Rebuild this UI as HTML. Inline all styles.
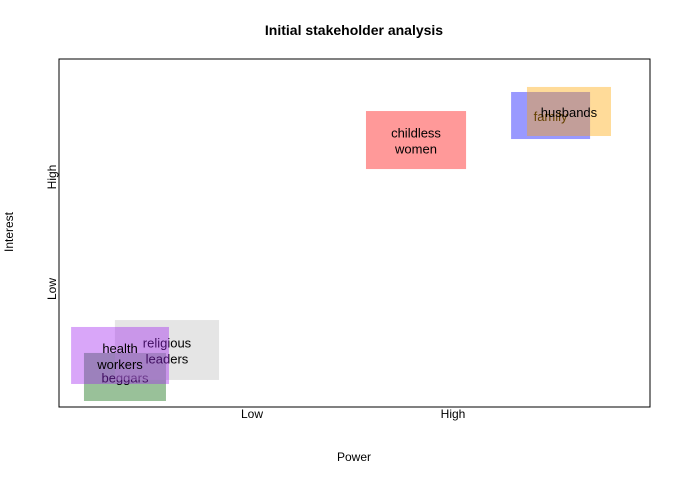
<!DOCTYPE html>
<html><head><meta charset="utf-8"><style>
body{margin:0;background:#fff}
svg text{font-family:"Liberation Sans",sans-serif}
</style></head><body>
<svg id="chart" width="680" height="480" xmlns="http://www.w3.org/2000/svg">
<rect width="680" height="480" fill="#fff"/>
<text x="354" y="35" text-anchor="middle" font-size="14" font-weight="bold">Initial stakeholder analysis</text>
<rect x="59" y="59" width="591" height="348" fill="none" stroke="#000" stroke-width="1"/>
<g id="marks"></g>
<g id="axes"></g>
<text x="354" y="461" text-anchor="middle" font-size="12">Power</text>
<text transform="translate(13,232) rotate(-90)" text-anchor="middle" font-size="12">Interest</text>
</svg>
<script>
const names=[["beggars"],["religious","leaders"],["health","workers"],["childless","women"],["family"],["husbands"]];
const xMin=[0.164,0.318,0.100,1.567,2.289,2.368];
const xMax=[0.572,0.836,0.587,2.065,2.682,2.786];
const yMin=[0.000,0.188,0.152,2.071,2.339,2.366];
const yMax=[0.429,0.723,0.661,2.589,2.759,2.804];
const colors=["rgba(0,100,0,0.4)","rgba(190,190,190,0.4)","rgba(160,32,240,0.4)","rgba(255,0,0,0.4)","rgba(0,0,255,0.4)","rgba(255,165,0,0.4)"];
const xTicks=[1,2], xTickLabels=["Low","High"];
const yTicks=[1,2], yTickLabels=["Low","High"];
const X=v=>252+(v-1)*201;
const Y=v=>289-(v-1)*112;
const NS="http://www.w3.org/2000/svg";
const marks=document.getElementById('marks');
names.forEach((n,i)=>{
  const r=document.createElementNS(NS,'rect');
  
  
  r.setAttribute('x',X(xMin[i]));r.setAttribute('y',Y(yMax[i]));
  r.setAttribute('width',X(xMax[i])-X(xMin[i]));r.setAttribute('height',Y(yMin[i])-Y(yMax[i]));
  r.setAttribute('fill',colors[i]);
  marks.appendChild(r);
  const cx=(X(xMin[i])+X(xMax[i]))/2, cy=(Y(yMin[i])+Y(yMax[i]))/2;
  n.forEach((w,j)=>{
    const t=document.createElementNS(NS,'text');
    
    
    t.setAttribute('x',cx);t.setAttribute('y',cy+5.5+(j-(n.length-1)/2)*16);
    t.setAttribute('text-anchor','middle');t.setAttribute('font-size','13');
    t.textContent=w;marks.appendChild(t);
  });
});
const axes=document.getElementById('axes');
xTicks.forEach((v,i)=>{
  const t=document.createElementNS(NS,'text');
  
  
  t.setAttribute('x',X(v));t.setAttribute('y',418);t.setAttribute('text-anchor','middle');t.setAttribute('font-size','12');
  t.textContent=xTickLabels[i];axes.appendChild(t);
});
yTicks.forEach((v,i)=>{
  const t=document.createElementNS(NS,'text');
  
  
  t.setAttribute('transform','translate(56,'+Y(v)+') rotate(-90)');t.setAttribute('text-anchor','middle');t.setAttribute('font-size','12');
  t.textContent=yTickLabels[i];axes.appendChild(t);
});
</script>
</body></html>
